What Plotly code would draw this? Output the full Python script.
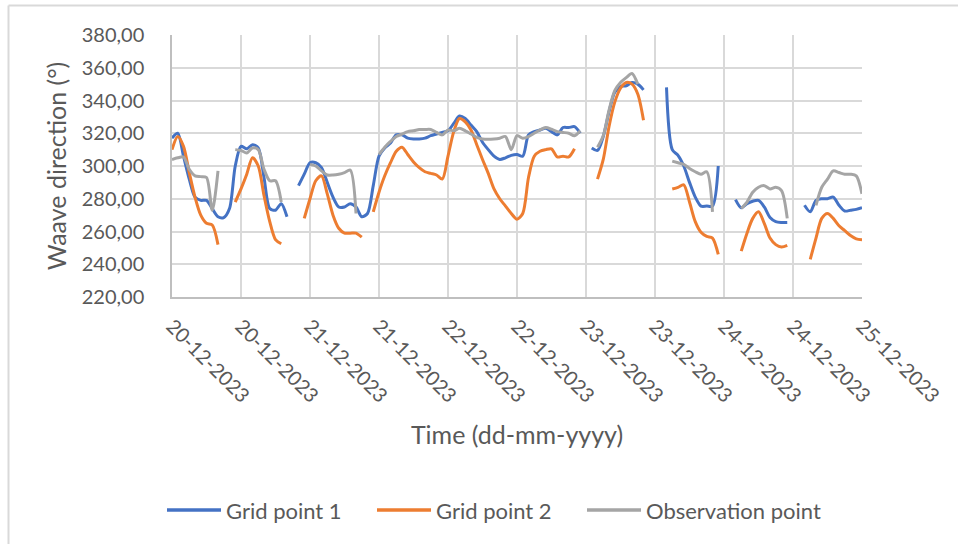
import pandas as pd
import plotly.graph_objects as go

# Hourly timestamps, 20-12-2023 00:00 through 25-12-2023 00:00
times = pd.date_range("2023-12-20 00:00", "2023-12-25 00:00", freq="h")

N = None
grid_point_1 = [
    317, 320, 306, 292, 281, 279, 279, 274, 269, 268.5, 274, 300, 312, 310.5, 313, 311, 293, 274, 273, 277, 269,
    N,
    288, 295, 302, 302, 299, 290, 281, 275, 275, 277, 275, 269, 271, 288, 306, 311, 314, 319, 319, 317,
    316.5, 316.5, 317, 318.5, 319.5, 320.5, 321.5, 326, 330.5, 329, 325, 321, 314.5, 310, 306, 304, 305,
    306.5, 307, 306, 319, 321, 322, 323, 321, 319, 323.5, 323.5, 324, 320,
    N,
    311, 309.5, 318, 333, 345, 348.5, 349, 351, 350, 346.5,
    N, N, N,
    348, 310, 306.5, 300, 290, 281, 275.5, 275.5, 275.5, 300,
    N, N,
    279.5, 274.5, 277, 278.5, 279, 275, 268.5, 266, 265.5, 265.5,
    N, N,
    276, 272, 279, 280, 280, 281, 276, 272.5, 273, 273.5, 274.5,
]

grid_point_2 = [
    310, 318, 312, 296, 281, 270, 265, 264, 252,
    N, N,
    278, 286, 295, 305, 300, 282, 266, 255, 252.5,
    N, N, N,
    268, 280, 291, 294, 283, 270, 262, 259, 259, 259, 256.5,
    N,
    272, 284, 294, 302, 309, 311.5, 307, 302.5, 299, 296.5, 295.5, 294.5, 292, 306, 321, 329, 327, 322,
    313, 304, 295.5, 286, 280, 275.5, 271, 267.5, 271, 293, 306, 309, 310, 310.5, 305.5, 306, 305.5, 310.5,
    N, N, N,
    292, 304, 324, 339, 347.5, 351, 350, 344, 328,
    N, N, N, N,
    286, 287, 288.5, 278, 266, 259.5, 257, 256, 246,
    N, N, N,
    248, 259, 268, 272, 265, 256, 252, 250.5, 251.5,
    N, N, N,
    243, 256, 268, 271, 268, 263.5, 260.5, 257.5, 255.5, 255,
]

observation_point = [
    304, 305, 305.5, 298, 294, 293.5, 293, 273, 297,
    N, N,
    310, 309.5, 308, 311, 310, 298, 291, 291, 278,
    N, N, N, N,
    301, 300, 297, 294.5, 294.5, 295, 296, 297.5, 271,
    N, N, N,
    307, 311.5, 315, 318, 319.5, 321, 321.5, 322.3, 322.3, 322.3, 320.5, 319, 322, 321.5, 323, 321.5,
    319.5, 317.5, 316.5, 316.3, 316.5, 317, 318, 310, 318.5, 317, 318, 320, 322, 323.5, 322.5, 321,
    320.5, 320, 318.5, 321.5,
    N, N,
    311.5, 318.5, 334, 346, 351, 354, 356.5, 350,
    N, N, N, N, N,
    303, 302, 301, 298.5, 296.5, 295, 296.5, 272,
    N, N, N, N,
    274, 278, 284, 287, 288, 286, 287, 285, 268,
    N, N, N, N,
    276, 287, 292, 297, 296, 295, 295, 294, 283,
]

series_names = ["Grid point 1", "Grid point 2", "Observation point"]
series_colors = ["#4472C4", "#ED7D31", "#A5A5A5"]
series_values = [grid_point_1, grid_point_2, observation_point]

fig = go.Figure()
for name, color, vals in zip(series_names, series_colors, series_values):
    fig.add_trace(go.Scatter(
        x=times, y=vals, name=name, mode="lines",
        line=dict(color=color, width=3, shape="spline", smoothing=0.8),
        connectgaps=False, showlegend=False,
    ))

text_color = "#595959"
grid_color = "#D9D9D9"

W, H = 958, 544
L, R, T, B = 172, 96, 35, 247
pw, ph = W - L - R, H - T - B

def px_x(px):
    return (px - L) / pw

def px_y(py):
    return (H - B - py) / ph

fig.update_layout(
    width=W, height=H,
    margin=dict(l=L, r=R, t=T, b=B),
    paper_bgcolor="white", plot_bgcolor="white",
    separators=",.",
    font=dict(family="Lato", size=20, color=text_color),
    showlegend=False,
    xaxis=dict(
        type="date",
        range=["2023-12-20 00:00", "2023-12-25 00:00"],
        tick0="2023-12-20 00:00", dtick=12 * 3600 * 1000,
        tickformat="%d-%m-%Y", tickangle=45,
        showgrid=True, gridcolor=grid_color, gridwidth=1.5,
        showline=True, linecolor="#BFBFBF", linewidth=1.5,
        ticks="", ticklabelstandoff=8,
        tickfont=dict(size=20, color=text_color),
        title=dict(text="Time (dd-mm-yyyy)", font=dict(size=25, color=text_color), standoff=21),
        zeroline=False,
    ),
    yaxis=dict(
        range=[220, 380], dtick=20, tick0=220, tickformat=".2f",
        showgrid=True, gridcolor=grid_color, gridwidth=1.5,
        showline=True, linecolor="#BFBFBF", linewidth=1.5,
        ticks="", ticklabelstandoff=22,
        tickfont=dict(size=20, color=text_color),
        title=dict(text="Waave direction (°)", font=dict(size=25, color=text_color), standoff=8),
        zeroline=False,
    ),
)

# Legend row: line swatch followed by the series name
legend_starts = [167, 377, 587]
legend_y = 510
for name, color, x0 in zip(series_names, series_colors, legend_starts):
    fig.add_shape(type="line", xref="paper", yref="paper",
                  x0=px_x(x0), x1=px_x(x0 + 54), y0=px_y(legend_y), y1=px_y(legend_y),
                  line=dict(color=color, width=3.5))
    fig.add_annotation(xref="paper", yref="paper", x=px_x(x0 + 57), y=px_y(legend_y),
                       xanchor="left", yanchor="middle", text=name, showarrow=False,
                       font=dict(size=22, color=text_color))

# Chart frame (left and top edges)
fig.add_shape(type="line", xref="paper", yref="paper",
              x0=px_x(8.5), x1=px_x(8.5), y0=px_y(5.5), y1=px_y(560),
              line=dict(color="#D9D9D9", width=2))
fig.add_shape(type="line", xref="paper", yref="paper",
              x0=px_x(8.5), x1=px_x(970), y0=px_y(5.5), y1=px_y(5.5),
              line=dict(color="#D9D9D9", width=2))

fig.write_html("out.html")
